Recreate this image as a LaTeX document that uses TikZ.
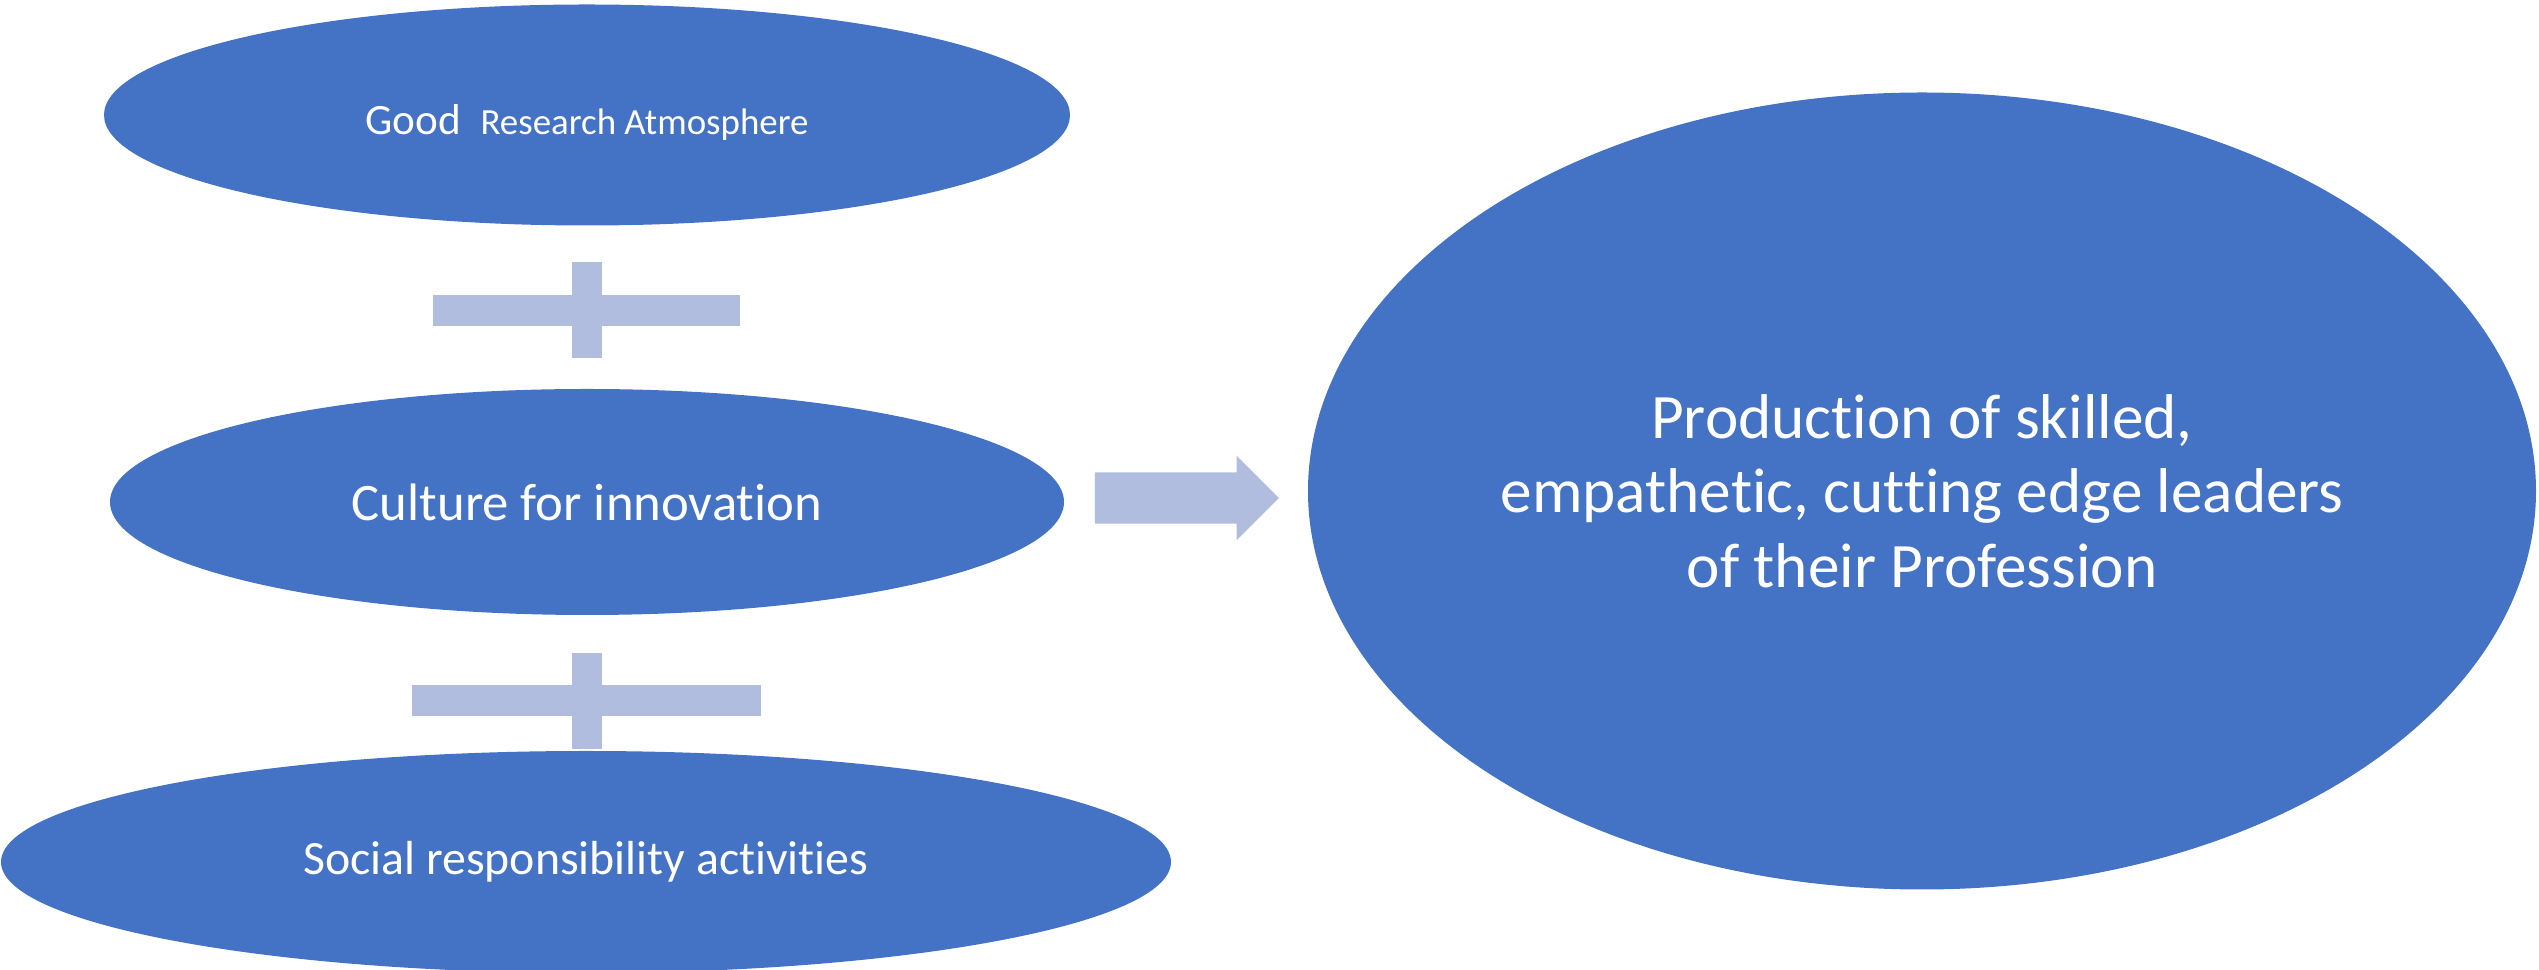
\documentclass[tikz,border=0pt]{standalone}
\usepackage{fontspec}
\setmainfont{Carlito}[Ligatures=NoCommon]
\usetikzlibrary{shapes.geometric,shapes.arrows}
\definecolor{ovalblue}{RGB}{68,114,196}
\definecolor{plusblue}{RGB}{176,189,222}

\begin{document}
\begin{tikzpicture}[
		oval/.style={ellipse, fill=ovalblue, inner sep=0pt, text=white, align=center},
		plus_bar/.style={rectangle, fill=plusblue, inner sep=0pt},
		block_arrow/.style={
			single arrow, fill=plusblue, inner xsep=0pt, inner ysep=0.25cm, single arrow head extend=0.165cm,
			single arrow tip angle=90, minimum width=0.83cm, minimum height=1.84cm
		}
		]
		\useasboundingbox (0,0) rectangle (25.39,9.70);
		
		% --- LEFT COLUMN (Ingredients) ---
		\node[oval, minimum width=9.66cm, minimum height=2.21cm] (research) at (5.87,8.55)
			{\raisebox{-1.2pt}[\height][0pt]{\fontsize{12.3pt}{14pt}\selectfont Good\hspace{0.45em}\fontsize{10.5pt}{13pt}\selectfont Research Atmosphere}};
		\node[oval, minimum width=9.54cm, minimum height=2.26cm, font=\fontsize{15pt}{18pt}\selectfont] (culture) at (5.87,4.68)
			{Culture for innovation};
		\node[oval, minimum width=11.70cm, minimum height=2.22cm, font=\fontsize{13.6pt}{16pt}\selectfont] (social) at (5.86,1.08)
			{Social responsibility activities};
		
		% --- PLUS SIGNS ---
		\node[plus_bar, minimum width=3.07cm, minimum height=0.31cm] (plus1_h) at (5.865,6.595) {};
		\node[plus_bar, minimum width=0.30cm, minimum height=0.96cm] (plus1_v) at (plus1_h.center) {};
		\node[plus_bar, minimum width=3.49cm, minimum height=0.31cm] (plus2_h) at (5.865,2.69) {};
		\node[plus_bar, minimum width=0.30cm, minimum height=0.96cm] (plus2_v) at (plus2_h.center) {};
		
		% --- OUTCOME ---
		\node[oval, minimum width=12.28cm, minimum height=7.97cm, font=\fontsize{18pt}{21.2pt}\selectfont] (outcome) at (19.22,4.79)
			{Production of skilled,\\
			empathetic, cutting edge leaders\\
			of their Profession};
		
		% --- BLOCK ARROW ---
		\node[block_arrow] (lead_arrow) at (11.74,4.72) {};
		
	\end{tikzpicture}
\end{document}
